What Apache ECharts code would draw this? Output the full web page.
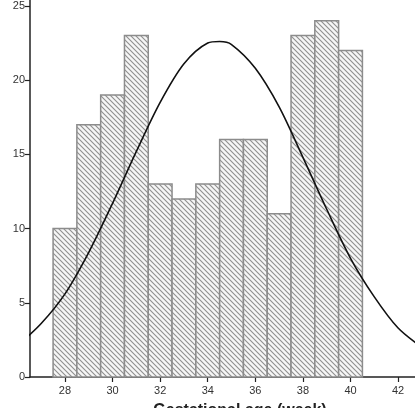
<!DOCTYPE html>
<html>
<head>
<meta charset="utf-8">
<script src="https://cdn.jsdelivr.net/npm/echarts@6/dist/echarts.min.js"></script>
<style>
  html, body { margin: 0; padding: 0; background: #fff; }
  #chart { width: 415px; height: 408px; }
</style>
</head>
<body>
<div id="chart"></div>
<script>
// histogram bins (week) and frequency
const weeks = [28, 29, 30, 31, 32, 33, 34, 35, 36, 37, 38, 39, 40];
const counts = [10, 17, 19, 23, 13, 12, 13, 16, 16, 11, 23, 24, 22];

// normal curve
const curveWeeks = [26, 27, 28, 29, 30, 31, 32, 33, 34, 34.5, 35, 36, 37, 38, 39, 40, 41, 42, 43];
const curveFreq = [2.1, 3.6, 5.6, 8.4, 11.7, 15.2, 18.5, 21.1, 22.5, 22.6, 22.4, 20.8, 18.2, 14.8, 11.3, 8.0, 5.4, 3.3, 2.0];

const xTicks = [28, 30, 32, 34, 36, 38, 40, 42];
const yTicks = [0, 5, 10, 15, 20, 25];

// hatch tile for the bars
function hatch() {
  const c = document.createElement('canvas');
  c.width = 5; c.height = 5;
  const g = c.getContext('2d');
  g.fillStyle = '#f6f6f6';
  g.fillRect(0, 0, 5, 5);
  g.strokeStyle = '#8f8f8f';
  g.lineWidth = 1.1;
  g.beginPath();
  g.moveTo(-1, -1); g.lineTo(6, 6);
  g.moveTo(-1, 4); g.lineTo(1, 6);
  g.moveTo(4, -1); g.lineTo(6, 1);
  g.stroke();
  return c;
}

const chart = echarts.init(document.getElementById('chart'));
const fontFamily = '"Liberation Sans", Arial, sans-serif';

const option = {
  animation: false,
  grid: { left: 30, right: 0, top: 0, bottom: 31, containLabel: false },
  xAxis: {
    type: 'value',
    min: 26.53,
    max: 42.71,
    axisLine: { onZero: false, lineStyle: { color: '#222', width: 1.5 } },
    axisTick: { show: true, length: 5, customValues: xTicks, lineStyle: { color: '#222', width: 1.2 } },
    axisLabel: { customValues: xTicks, margin: 8, color: '#333', fontSize: 11, fontFamily: fontFamily },
    splitLine: { show: false }
  },
  yAxis: {
    type: 'value',
    min: 0,
    max: 25.4,
    axisLine: { show: true, onZero: false, lineStyle: { color: '#222', width: 1.5 } },
    axisTick: { show: true, length: 5, customValues: yTicks, lineStyle: { color: '#222', width: 1.2 } },
    axisLabel: { customValues: yTicks, margin: 5, color: '#333', fontSize: 11, fontFamily: fontFamily },
    splitLine: { show: false }
  },
  graphic: [
    {
      type: 'text',
      x: 240, y: 403,
      style: {
        text: 'Gestational age (week)',
        fontSize: 16, fontWeight: 'bold', fontFamily: fontFamily,
        fill: '#222', align: 'center', verticalAlign: 'top'
      }
    },
    {
      type: 'text',
      x: 0, y: 255,
      rotation: Math.PI / 2,
      style: {
        text: 'Frequency',
        fontSize: 15, fontWeight: 'bold', fontFamily: fontFamily,
        fill: '#222', align: 'center', verticalAlign: 'bottom'
      }
    }
  ],
  series: [
    {
      type: 'custom',
      data: weeks.map((w, i) => [w, counts[i]]),
      renderItem: function (params, api) {
        const w = api.value(0);
        const topLeft = api.coord([w - 0.5, api.value(1)]);
        const botRight = api.coord([w + 0.5, 0]);
        return {
          type: 'rect',
          shape: {
            x: topLeft[0], y: topLeft[1],
            width: botRight[0] - topLeft[0],
            height: botRight[1] - topLeft[1]
          },
          style: {
            fill: { image: hatch(), repeat: 'repeat' },
            stroke: '#8c8c8c',
            lineWidth: 1.5
          }
        };
      },
      z: 2
    },
    {
      type: 'line',
      data: curveWeeks.map((w, i) => [w, curveFreq[i]]),
      smooth: 0.3,
      symbol: 'none',
      clip: true,
      lineStyle: { color: '#111', width: 1.6 },
      z: 3
    }
  ]
};

chart.setOption(option);
</script>
</body>
</html>
